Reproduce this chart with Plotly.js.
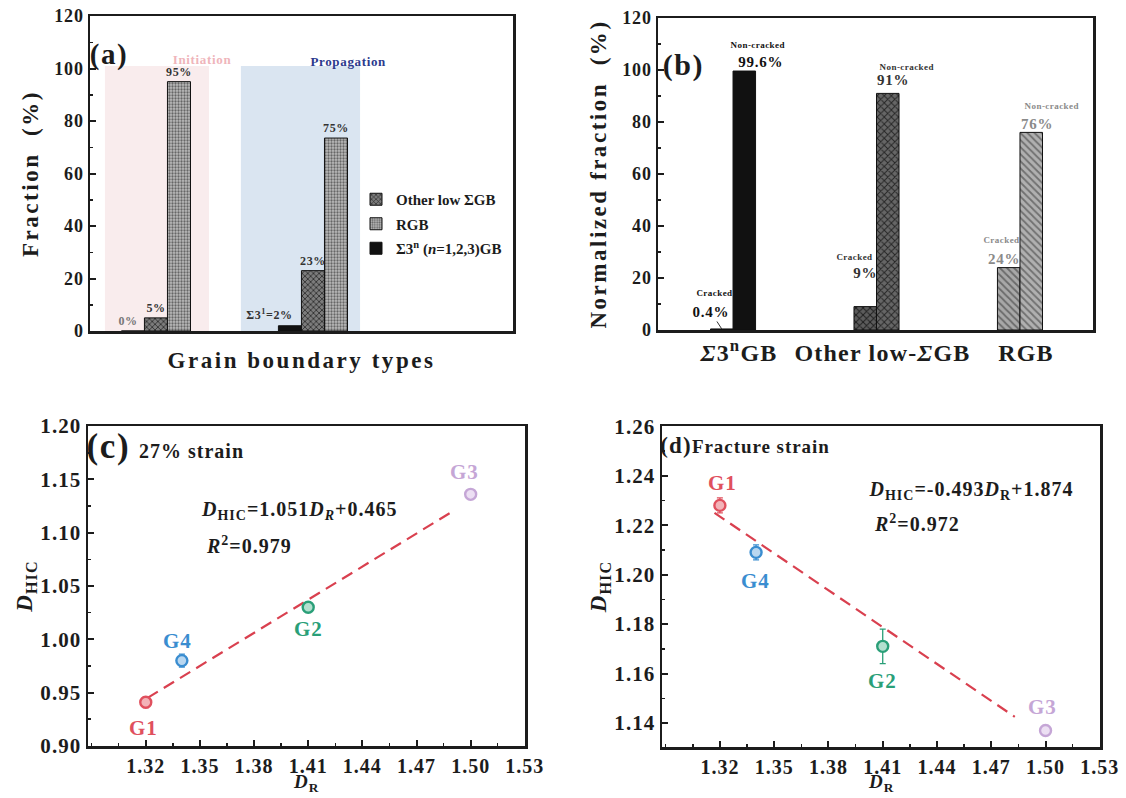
<!DOCTYPE html>
<html><head><meta charset="utf-8">
<script src="https://cdn.plot.ly/plotly-3.0.1.min.js"></script>
<style>
html,body{margin:0;padding:0;background:#fff;}
#chart{width:1126px;height:798px;}
#chart .main-svg text{letter-spacing:0.05em;}
#chart .xtitle, #chart .ytitle, #chart .y2title{letter-spacing:0.11em !important;}
#chart .legendtext{letter-spacing:0 !important;}
</style>
</head><body><div id="chart"></div>
<script>
// ================= DATA =================
// (a) crack initiation / propagation fractions
const aStages = ['Initiation', 'Propagation'];
const aSigma3 = [0, 2];
const aOtherLow = [5, 23];
const aRGB = [95, 73.5];
const aSigma3Text = ['0%', 'Σ3<sup>1</sup>=2%'];
const aOtherText = ['5%', '23%'];
const aRGBText = ['95%', '75%'];
const aNames = ['Σ3<sup>n</sup> (<i>n</i>=1,2,3)GB', 'Other low ΣGB', 'RGB'];
const pctTicks = [0, 20, 40, 60, 80, 100, 120];

// (b) normalized fractions
const bCategories = ['<i>Σ</i>3<sup>n</sup>GB', 'Other low-<i>Σ</i>GB', 'RGB'];
const bCracked = [0.4, 9, 24];
const bNonCracked = [99.6, 91, 76];
const bCrackedText = ['0.4%', '9%', '24%'];
const bNonCrackedText = ['99.6%', '91%', '76%'];
const bStateText = ['Cracked', 'Non-cracked'];

// (c),(d) D_HIC vs D_R
const gNames = ['G1', 'G4', 'G2', 'G3'];
const gDR = [1.32, 1.34, 1.41, 1.50];
const cDHIC = [0.941, 0.980, 1.030, 1.136];
const cErr = [0.005, 0.006, 0.004, 0.003];
const dDHIC = [1.228, 1.209, 1.171, 1.137];
const dErr = [0.003, 0.003, 0.007, 0.002];
const cFitDR = [1.321, 1.490];
const cFitDHIC = [0.945, 1.120];
const dFitDR = [1.317, 1.483];
const dFitDHIC = [1.225, 1.1425];
const drTicks = [1.32, 1.35, 1.38, 1.41, 1.44, 1.47, 1.50, 1.53];
const cYTicks = [0.90, 0.95, 1.00, 1.05, 1.10, 1.15, 1.20];
const dYTicks = [1.14, 1.16, 1.18, 1.20, 1.22, 1.24, 1.26];
const cEquation = ['<i>D</i><sub>HIC</sub>=1.051<i>D</i><sub><i>R</i></sub>+0.465', '<i>R</i><sup>2</sup>=0.979'];
const dEquation = ['<i>D</i><sub>HIC</sub>=-0.493<i>D</i><sub>R</sub>+1.874', '<i>R</i><sup>2</sup>=0.972'];
const drTitle = '<i>D</i><sub>R</sub>';

// ================= STYLE =================
const serif = '"Liberation Serif","Times New Roman",serif';
const ink = '#1c1c1c';
const W = 1126, H = 798;
const px = v => v / W;
const py = v => 1 - v / H;
const bold = arr => arr.map(v => '<b>' + v + '</b>');
const gColor = ['#e0505e', '#3a8dd0', '#2a9f78', '#c5a6d6'];
const gFill = ['#f3b3b8', '#b9d7f0', '#b3e0cf', '#ecdff3'];
const cLabOff = [[-2, -26], [-4, 20], [0, -22], [-6, 22]];
const dLabOff = [[3, 22], [-1, -29], [0, -35], [-3, 23]];

const traces = [];
const ann = [];

// ---------- (a) ----------
const barLine = {color: '#111', width: 1};
traces.push({type: 'bar', x: aStages, y: aSigma3, name: aNames[0], legendrank: 3, legendgroup: 's3',
  marker: {color: '#111', line: barLine}, xaxis: 'x', yaxis: 'y', hoverinfo: 'skip'});
traces.push({type: 'bar', x: aStages, y: aOtherLow, name: aNames[1], legendrank: 1, legendgroup: 'ol',
  marker: {color: '#6e6e6e', line: barLine, pattern: {shape: 'x', fgcolor: '#262626', bgcolor: '#7c7c7c', size: 4, solidity: 0.35}},
  xaxis: 'x', yaxis: 'y', hoverinfo: 'skip'});
traces.push({type: 'bar', x: aStages, y: aRGB, name: aNames[2], legendrank: 2, legendgroup: 'rgb',
  marker: {color: '#b4b4b4', line: barLine, pattern: {shape: '.', fgcolor: '#666', bgcolor: '#bcbcbc', size: 3, solidity: 0.45}},
  xaxis: 'x', yaxis: 'y', hoverinfo: 'skip'});

const aSeries = [[aSigma3, aSigma3Text, -23, [[-5, 1], [-20, 2]], ['#777', '#333']],
                 [aOtherLow, aOtherText, 0, [[0, 1], [0, 1]], ['#333', '#333']],
                 [aRGB, aRGBText, 23, [[0, 1], [0, 1]], ['#333', '#333']]];
aSeries.forEach(s => {
  s[0].forEach((v, i) => {
    ann.push({xref: 'x', yref: 'y', x: i, y: v, text: '<b>' + s[1][i] + '</b>', showarrow: false,
      xanchor: 'center', yanchor: 'bottom', xshift: s[2] + s[3][i][0], yshift: s[3][i][1],
      font: {family: serif, size: 12, color: s[4][i]}});
  });
});
ann.push({xref: 'paper', yref: 'paper', x: px(174), y: py(50), text: '<b>Initiation</b>', showarrow: false,
  font: {family: serif, size: 13, color: '#efb5bb'}});
ann.push({xref: 'paper', yref: 'paper', x: px(312), y: py(52), text: '<b>Propagation</b>', showarrow: false,
  font: {family: serif, size: 13, color: '#2c3a8e'}});
ann.push({xref: 'paper', yref: 'paper', x: px(90), y: py(36), xanchor: 'left', text: '<b>(a)</b>', showarrow: false,
  font: {family: serif, size: 29, color: ink}});

// ---------- (b) ----------
const bw = 0.157;
const bFill = [['#111', '#5c5c5c', '#a8a8a8'], ['#111', '#666', '#b0b0b0']];
const bFg = [['#111', '#1e1e1e', '#6a6a6a'], ['#111', '#262626', '#707070']];
const bShapes = ['', 'x', '\\'];
bCategories.forEach((c, i) => {
  [bCracked, bNonCracked].forEach((vals, k) => {
    const m = {color: bFill[k][i], line: barLine};
    if (bShapes[i]) m.pattern = {shape: bShapes[i], fgcolor: bFg[k][i], bgcolor: bFill[k][i], size: 5, solidity: 0.35};
    traces.push({type: 'bar', x: [c], y: [vals[i]], showlegend: false,
      offset: k === 0 ? -bw : 0, width: bw, marker: m, xaxis: 'x2', yaxis: 'y2', hoverinfo: 'skip'});
  });
});
// label offsets (px) relative to bar top-center: [pct dx, pct dy, state dx, state dy]
const bOff = [
  [[-7, -19, -7, -36], [16, -9, 14, -26]],
  [[0, -34, -11, -50], [5, -13, 19, -26]],
  [[-5, -9, -7, -28], [6, -8, 21, -26]]
];
const bTextColor = ['#111', '#333', '#8a8a8a'];
const barPx = 22.5;
bCategories.forEach((c, i) => {
  [[bCracked, bCrackedText], [bNonCracked, bNonCrackedText]].forEach((pair, k) => {
    const o = bOff[i][k];
    const cx = k === 0 ? -barPx / 2 : barPx / 2;
    const isArrow = (i === 0 && k === 0);
    ann.push({xref: 'x2', yref: 'y2', x: c, y: pair[0][i], text: '<b>' + pair[1][i] + '</b>',
      showarrow: isArrow, arrowhead: 0, arrowwidth: 1, arrowcolor: '#333', ax: o[0] - 4, ay: o[1] + 2,
      xanchor: 'center', yanchor: 'middle', xshift: isArrow ? cx : cx + o[0], yshift: isArrow ? 0 : -o[1],
      font: {family: serif, size: 15, color: bTextColor[i]}});
    ann.push({xref: 'x2', yref: 'y2', x: c, y: pair[0][i], text: '<b>' + bStateText[k] + '</b>', showarrow: false,
      xanchor: 'center', yanchor: 'middle', xshift: cx + o[2], yshift: -o[3],
      font: {family: serif, size: 9, color: bTextColor[i]}});
  });
});
ann.push({xref: 'paper', yref: 'paper', x: px(663), y: py(46), xanchor: 'left', text: '<b>(b)</b>', showarrow: false,
  font: {family: serif, size: 30, color: ink}});

// ---------- (c) & (d) ----------
function scatterPanel(xa, ya, yVals, errs, fx, fy, off) {
  traces.push({type: 'scatter', mode: 'lines', x: fx, y: fy, xaxis: xa, yaxis: ya, showlegend: false,
    line: {color: '#d9404f', width: 2.2, dash: '12px,7px'}, hoverinfo: 'skip'});
  gNames.forEach((g, i) => {
    traces.push({type: 'scatter', mode: 'markers', x: [gDR[i]], y: [yVals[i]], xaxis: xa, yaxis: ya, showlegend: false,
      error_y: {type: 'data', array: [errs[i]], color: gColor[i], thickness: 1.3, width: 3},
      marker: {size: 11, color: gFill[i], line: {color: gColor[i], width: 2.4}}, hoverinfo: 'skip'});
    ann.push({xref: xa, yref: ya, x: gDR[i], y: yVals[i], text: '<b>' + g + '</b>', showarrow: false,
      xshift: off[i][0], yshift: off[i][1], font: {family: serif, size: 21, color: gColor[i]}});
  });
}
scatterPanel('x3', 'y3', cDHIC, cErr, cFitDR, cFitDHIC, cLabOff);
scatterPanel('x4', 'y4', dDHIC, dErr, dFitDR, dFitDHIC, dLabOff);

const eqFont = {family: serif, size: 20, color: ink};
ann.push({xref: 'x3', yref: 'y3', x: 1.3545, y: 1.121, xanchor: 'left', text: '<b>' + cEquation[0] + '</b>', showarrow: false, font: eqFont});
ann.push({xref: 'x3', yref: 'y3', x: 1.3545, y: 1.088, xanchor: 'left', text: '<b>' + cEquation[1] + '</b>', showarrow: false, font: eqFont});
ann.push({xref: 'x4', yref: 'y4', x: 1.4065, y: 1.234, xanchor: 'left', text: '<b>' + dEquation[0] + '</b>', showarrow: false, font: eqFont});
ann.push({xref: 'x4', yref: 'y4', x: 1.4065, y: 1.221, xanchor: 'left', text: '<b>' + dEquation[1] + '</b>', showarrow: false, font: eqFont});
ann.push({xref: 'paper', yref: 'paper', x: px(87), y: py(446), xanchor: 'left', text: '<b>(c)</b>', showarrow: false,
  font: {family: serif, size: 35, color: ink}});
ann.push({xref: 'paper', yref: 'paper', x: px(142), y: py(451), xanchor: 'left', text: '<b>27% strain</b>', showarrow: false,
  font: {family: serif, size: 20, color: ink}});
ann.push({xref: 'paper', yref: 'paper', x: px(660), y: py(445), xanchor: 'left', text: '<b>(d)</b>', showarrow: false,
  font: {family: serif, size: 23, color: ink}});
ann.push({xref: 'paper', yref: 'paper', x: px(697), y: py(446), xanchor: 'left', text: '<b>Fracture strain</b>', showarrow: false,
  font: {family: serif, size: 19, color: ink}});
// D_R axis titles (placed just below the tick labels, kept inside the page)
ann.push({xref: 'x3 domain', yref: 'paper', x: 0.5, y: py(797), yanchor: 'bottom', text: '<b>' + drTitle + '</b>', showarrow: false,
  font: {family: serif, size: 19, color: ink}});
ann.push({xref: 'x4 domain', yref: 'paper', x: 0.5, y: py(797), yanchor: 'bottom', text: '<b>' + drTitle + '</b>', showarrow: false,
  font: {family: serif, size: 19, color: ink}});

// ================= LAYOUT =================
const boxAxis = {showline: true, mirror: true, linewidth: 2.5, linecolor: ink, showgrid: false, zeroline: false};
const tickStyle = {ticks: 'inside', ticklen: 6, tickwidth: 2, tickcolor: ink};
const minorStyle = {ticks: 'inside', ticklen: 3, tickwidth: 1.5, tickcolor: ink};
const layout = {
  width: W, height: H, margin: {l: 0, r: 0, t: 0, b: 0},
  paper_bgcolor: '#fff', plot_bgcolor: 'rgba(0,0,0,0)',
  barmode: 'group', bargap: 0.56, bargroupgap: 0,
  font: {family: serif, color: ink},
  showlegend: true,
  legend: {x: px(356), y: py(183), xanchor: 'left', yanchor: 'top', bgcolor: 'rgba(0,0,0,0)',
    font: {family: serif, size: 15, color: ink, weight: 'bold'}, tracegroupgap: 2},
  xaxis: Object.assign({}, boxAxis, {domain: [px(90), px(513)], anchor: 'y', type: 'category',
    range: [-0.42, 2.274], showticklabels: false, ticks: '',
    title: {text: '<b>Grain boundary types</b>', font: {family: serif, size: 23, color: ink}, standoff: 20}}),
  yaxis: Object.assign({}, boxAxis, tickStyle, {domain: [py(331), py(16)], anchor: 'x', range: [0, 120],
    tickmode: 'array', tickvals: pctTicks, ticktext: bold(pctTicks),
    minor: Object.assign({dtick: 10}, minorStyle),
    tickfont: {family: serif, size: 18, color: ink},
    title: {text: '<b>Fraction  (%)</b>', font: {family: serif, size: 23, color: ink}, standoff: 12}}),
  xaxis2: Object.assign({}, boxAxis, {domain: [px(658), px(1093)], anchor: 'y2', type: 'category',
    range: [-0.523, 2.509], ticks: '', ticklabelshift: 6, ticktext: bold(bCategories), tickvals: bCategories, tickmode: 'array',
    tickfont: {family: serif, size: 24, color: ink}}),
  yaxis2: Object.assign({}, boxAxis, tickStyle, {domain: [py(330), py(18)], anchor: 'x2', range: [0, 120],
    tickmode: 'array', tickvals: pctTicks, ticktext: bold(pctTicks),
    minor: Object.assign({dtick: 10}, minorStyle),
    tickfont: {family: serif, size: 18, color: ink},
    title: {text: '<b>Normalized fraction  (%)</b>', font: {family: serif, size: 23, color: ink}, standoff: 12}}),
  xaxis3: Object.assign({}, boxAxis, tickStyle, {domain: [px(88), px(525)], anchor: 'y3', range: [1.288, 1.5301],
    tickmode: 'array', tickvals: drTicks, ticktext: bold(drTicks.map(v => v.toFixed(2))),
    minor: Object.assign({tick0: 1.32, dtick: 0.015}, minorStyle),
    tickfont: {family: serif, size: 20, color: ink}}),
  yaxis3: Object.assign({}, boxAxis, tickStyle, {domain: [py(746), py(426)], anchor: 'x3', range: [0.8999, 1.2001],
    tickmode: 'array', tickvals: cYTicks, ticktext: bold(cYTicks.map(v => v.toFixed(2))),
    minor: Object.assign({tick0: 0.9, dtick: 0.025}, minorStyle),
    tickfont: {family: serif, size: 21, color: ink},
    title: {text: '<b><i>D</i><sub>HIC</sub></b>', font: {family: serif, size: 23, color: ink}, standoff: 6}}),
  xaxis4: Object.assign({}, boxAxis, tickStyle, {domain: [px(662), px(1100)], anchor: 'y4', range: [1.288, 1.5301],
    tickmode: 'array', tickvals: drTicks, ticktext: bold(drTicks.map(v => v.toFixed(2))),
    minor: Object.assign({tick0: 1.32, dtick: 0.015}, minorStyle),
    tickfont: {family: serif, size: 20, color: ink}}),
  yaxis4: Object.assign({}, boxAxis, tickStyle, {domain: [py(747), py(426)], anchor: 'x4', range: [1.1303, 1.2601],
    tickmode: 'array', tickvals: dYTicks, ticktext: bold(dYTicks.map(v => v.toFixed(2))),
    minor: Object.assign({tick0: 1.14, dtick: 0.01}, minorStyle),
    tickfont: {family: serif, size: 21, color: ink},
    title: {text: '<b><i>D</i><sub>HIC</sub></b>', font: {family: serif, size: 23, color: ink}, standoff: 6}}),
  shapes: [
    {type: 'rect', xref: 'x', yref: 'y', x0: -0.325, x1: 0.338, y0: 0, y1: 101, fillcolor: '#f9eced', line: {width: 0}, layer: 'below'},
    {type: 'rect', xref: 'x', yref: 'y', x0: 0.541, x1: 1.30, y0: 0, y1: 101, fillcolor: '#dae5f1', line: {width: 0}, layer: 'below'}
  ],
  annotations: ann
};

Plotly.newPlot('chart', traces, layout, {staticPlot: true, displayModeBar: false});
</script>
</body></html>
